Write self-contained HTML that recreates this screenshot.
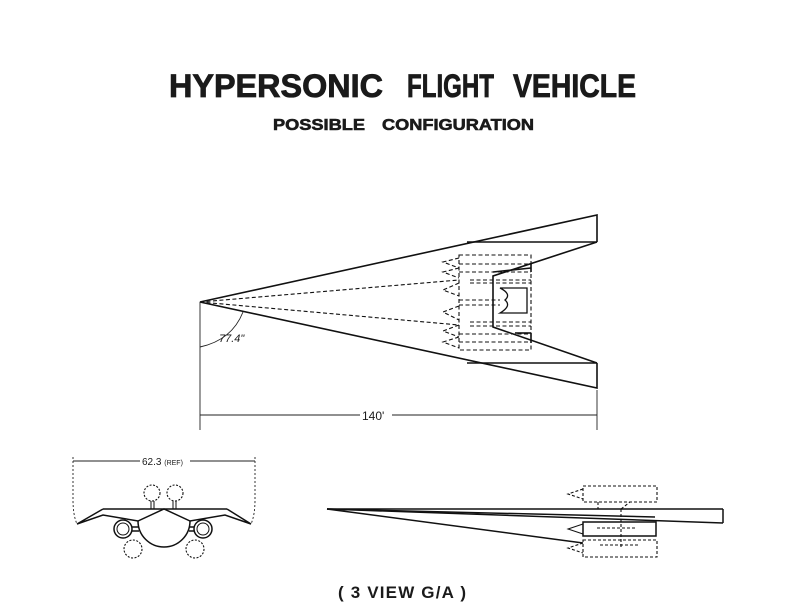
<!DOCTYPE html>
<html><head><style>
html,body{margin:0;padding:0;background:#fff;}
svg{display:block;}
text{font-family:"Liberation Sans",sans-serif;fill:#1a1a1a;}
</style></head><body>
<svg width="792" height="612" viewBox="0 0 792 612" xmlns="http://www.w3.org/2000/svg">
<rect width="792" height="612" fill="#fff"/>
<g font-size="32" font-weight="bold" stroke="#1a1a1a" stroke-width="0.8">
<text x="169" y="97" textLength="214" lengthAdjust="spacingAndGlyphs">HYPERSONIC</text>
<text x="407" y="97" textLength="87" lengthAdjust="spacingAndGlyphs">FLIGHT</text>
<text x="513" y="97" textLength="123" lengthAdjust="spacingAndGlyphs">VEHICLE</text>
</g>
<g font-size="16" font-weight="bold" stroke="#1a1a1a" stroke-width="0.6">
<text x="273" y="130" textLength="92" lengthAdjust="spacingAndGlyphs">POSSIBLE</text>
<text x="382" y="130" textLength="152" lengthAdjust="spacingAndGlyphs">CONFIGURATION</text>
</g>
<text x="338" y="598" font-size="17" font-weight="bold" textLength="128" lengthAdjust="spacing">( 3 VIEW G/A )</text>

<g stroke="#111" fill="none" stroke-width="1.6">
<polyline points="597,242 597,215 200,302 597,388 597,363"/>
<line x1="467" y1="242" x2="597" y2="242"/>
<line x1="467" y1="363" x2="597" y2="363"/>
<polyline points="597,242 493,276 493,327 597,363"/>
<line x1="493" y1="272" x2="531" y2="268"/>
<line x1="531" y1="263" x2="531" y2="272"/>
<line x1="515" y1="333" x2="531" y2="333"/>
<line x1="531" y1="333" x2="531" y2="343"/>
<path d="M500,288 H527 V313 H500 Q512,306 505,300 Q512,294 500,288 Z" stroke-width="1.3"/>
</g>
<g stroke="#111" fill="none" stroke-width="1.1" stroke-dasharray="4,2.5">
<rect x="459" y="255" width="72" height="95"/>
<line x1="200" y1="302" x2="459" y2="280"/>
<line x1="200" y1="302" x2="459" y2="325"/>
<line x1="459" y1="264" x2="531" y2="264"/>
<line x1="459" y1="272" x2="531" y2="272"/>
<line x1="470" y1="280" x2="531" y2="280"/>
<line x1="470" y1="283" x2="531" y2="283"/>
<line x1="459" y1="300" x2="500" y2="300"/>
<line x1="459" y1="305" x2="500" y2="305"/>
<line x1="470" y1="322" x2="531" y2="322"/>
<line x1="470" y1="326" x2="531" y2="326"/>
<line x1="459" y1="334" x2="531" y2="334"/>
<line x1="459" y1="342" x2="531" y2="342"/>
<polyline points="459,258 443,262 459,268"/>
<polyline points="459,268 443,272 459,278"/>
<polyline points="459,283 443,290 459,296"/>
<polyline points="459,306 443,312 459,320"/>
<polyline points="459,325 443,331 459,337"/>
<polyline points="459,337 443,342 459,348"/>
</g>
<g stroke="#222" fill="none" stroke-width="0.9">
<line x1="200" y1="302" x2="200" y2="430"/>
<line x1="597" y1="390" x2="597" y2="430"/>
<line x1="200" y1="415" x2="360" y2="415"/>
<line x1="392" y1="415" x2="597" y2="415"/>
<path d="M200,347 Q232,340 243,312"/>
</g>
<text x="362" y="420" font-size="12" fill="#222">140'</text>
<text x="219" y="342" font-size="11" font-style="italic" fill="#222">77.4"</text>

<g stroke="#222" fill="none" stroke-width="0.9">
<line x1="73" y1="461" x2="140" y2="461"/>
<line x1="190" y1="461" x2="255" y2="461"/>
<path d="M73,457 V500 Q73,515 77,524" stroke-dasharray="2,2"/>
<path d="M255,457 V500 Q255,515 251,524" stroke-dasharray="2,2"/>
</g>
<text x="142" y="465" font-size="10" fill="#222">62.3 <tspan font-size="7">(REF)</tspan></text>
<g stroke="#111" fill="none" stroke-width="1.5">
<line x1="103" y1="509" x2="227" y2="509"/>
<polyline points="103,509 77,524 103,515 138,521 164,509 190,521 225,515 251,524 227,509"/>
<path d="M138,521 A26,26 0 0 0 190,521"/>
<circle cx="123" cy="529" r="9"/><circle cx="123" cy="529" r="6" stroke-width="1"/>
<circle cx="203" cy="529" r="9"/><circle cx="203" cy="529" r="6" stroke-width="1"/>
<line x1="132" y1="527" x2="139" y2="527"/><line x1="132" y1="531" x2="139" y2="531"/>
<line x1="189" y1="527" x2="194" y2="527"/><line x1="189" y1="531" x2="194" y2="531"/>
<line x1="151" y1="501" x2="151" y2="509" stroke-width="1"/><line x1="154" y1="501" x2="154" y2="509" stroke-width="1"/>
<line x1="173" y1="501" x2="173" y2="509" stroke-width="1"/><line x1="176" y1="501" x2="176" y2="509" stroke-width="1"/>
</g>
<g stroke="#111" fill="none" stroke-width="1.1" stroke-dasharray="2,1.5">
<circle cx="152" cy="493" r="8"/><circle cx="175" cy="493" r="8"/>
<circle cx="133" cy="549" r="9"/><circle cx="195" cy="549" r="9"/>
</g>

<g stroke="#111" fill="none" stroke-width="1.5">
<line x1="327" y1="509" x2="723" y2="509"/>
<line x1="723" y1="509" x2="723" y2="523"/>
<line x1="327" y1="509" x2="723" y2="523"/>
<line x1="327" y1="509" x2="655" y2="517"/>
<line x1="327" y1="509" x2="583" y2="543"/>
<rect x="583" y="522" width="73" height="14"/>
<polyline points="583,524 568,529 583,534" stroke-width="1"/>
</g>
<g stroke="#111" fill="none" stroke-width="1.1" stroke-dasharray="3,2">
<rect x="583" y="486" width="74" height="16"/>
<polyline points="583,489 568,494 583,499"/>
<rect x="583" y="540" width="74" height="17"/>
<polyline points="583,543 568,548 583,553"/>
<line x1="597" y1="528" x2="635" y2="528"/>
<line x1="600" y1="545" x2="640" y2="545"/>
<line x1="621" y1="509" x2="621" y2="548"/>
<line x1="598" y1="502" x2="598" y2="509"/>
<line x1="621" y1="509" x2="630" y2="502"/>
</g>
</svg>
</body></html>
